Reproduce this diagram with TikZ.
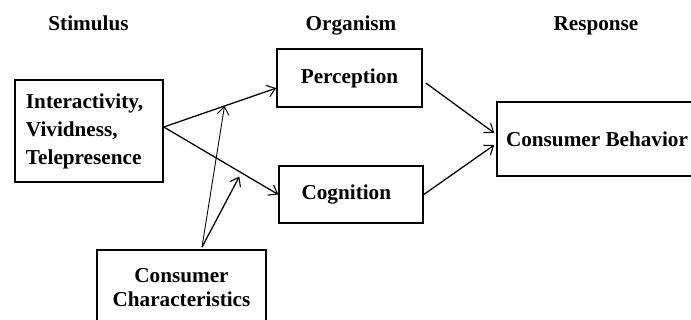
\documentclass[tikz,border=0pt]{standalone}
\usepackage{fontspec}
\setmainfont{Liberation Serif}
\usetikzlibrary{arrows.meta,calc}
\tikzset{
  box/.style={draw, line width=1.2pt, inner sep=0pt, align=center,
    font=\fontsize{15.9}{18}\selectfont\bfseries},
  head/.style={font=\fontsize{15.9}{18}\selectfont\bfseries, anchor=base, inner sep=0pt},
  arr/.style={line width=0.95pt, -{Straight Barb[length=6pt,width=9pt,line width=0.8pt]}},
  thinarr/.style={line width=0.65pt, -{Straight Barb[length=6pt,width=9pt,line width=0.65pt]}}
}
\begin{document}
\begin{tikzpicture}[x=0.75pt,y=-0.75pt]
\clip (0,0) rectangle (691,320);
\useasboundingbox (0,0) rectangle (691,320);
% headers
\node[head] (hs) at (88.5,31) {Stimulus};
\node[head] (ho) at (351,31) {Organism};
\node[head] (hr) at (596,31) {Response};
% boxes
\node[box, align=left, text width=94.5pt, inner xsep=8.25pt, minimum height=76.5pt,
  font=\fontsize{15.9}{21}\selectfont\bfseries] (A) at (89,131)
  {Interactivity,\\Vividness,\\Telepresence};
\node[box, minimum width=108.75pt, minimum height=43.5pt] (P) at (349.5,78) {Perception};
\node[box, minimum width=108pt, minimum height=42.75pt] (G) at (351,194.5) {\hspace*{-7pt}Cognition};
\node[box, minimum width=150pt, minimum height=55.5pt] (B) at (597,139) {Consumer Behavior};
\node[box, minimum width=126.75pt, minimum height=57pt] (C) at (181.5,288) {Consumer\\Characteristics};
% connectors
\coordinate (Aout) at ($(A.east)+(0,-4)$);
\coordinate (Pin) at ($(P.south west)!0.33!(P.north west)$);
\draw[arr] (Aout) -- node[pos=0.54, coordinate] (m1) {} (Pin);
\draw[arr] (Aout) -- node[pos=0.66, coordinate] (m2) {} (G.west);
\coordinate (Cout) at ($(C.north west)!0.62!(C.north east)+(0,-2)$);
\coordinate (m2b) at ($(m2)+(0,5)$);
\draw[thinarr] (Cout) -- (m1);
\draw[arr] (Cout) -- (m2b);
\coordinate (Pout) at ($(P.east)+(3,5)$);
\coordinate (Bin1) at ($(B.north west)!0.42!(B.south west)+(-2,0)$);
\coordinate (Bin2) at ($(B.north west)!0.58!(B.south west)+(-2,0)$);
\draw[arr] (Pout) -- (Bin1);
\draw[arr] (G.east) -- (Bin2);
\end{tikzpicture}
\end{document}
